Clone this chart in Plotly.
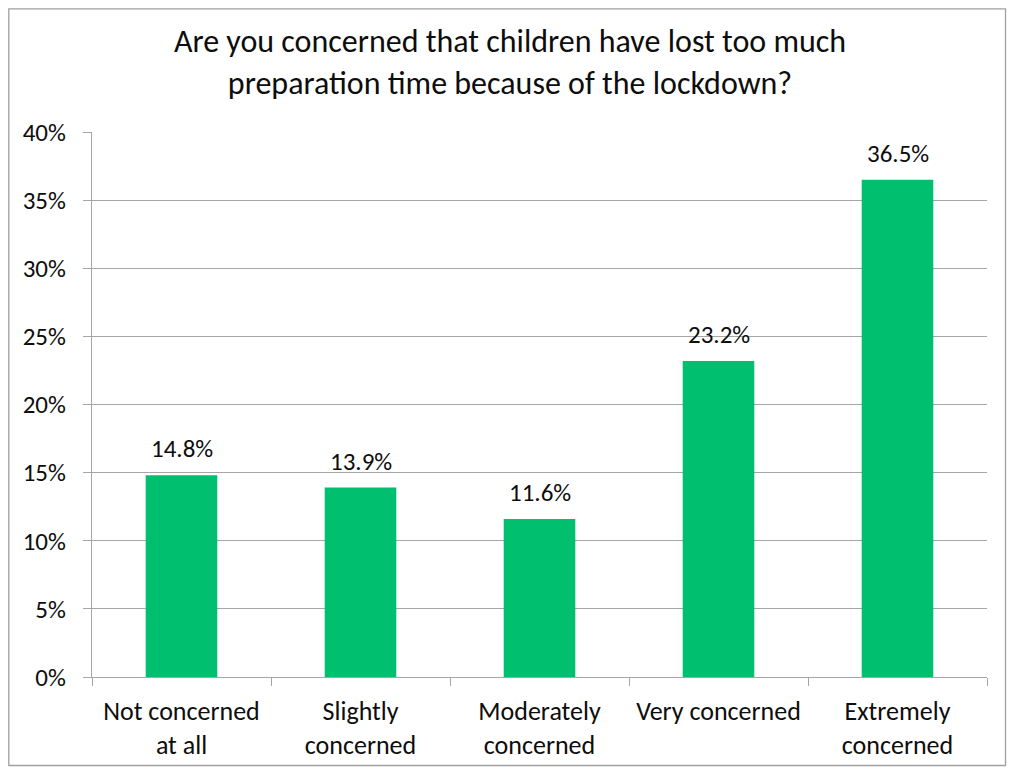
import plotly.graph_objects as go

categories = ["Not concerned<br>at all", "Slightly<br>concerned", "Moderately<br>concerned",
              "Very concerned", "Extremely<br>concerned"]
values = [14.8, 13.9, 11.6, 23.2, 36.5]
labels = ["14.8%", "13.9%", "11.6%", "23.2%", "36.5%"]
y_ticks = [0, 5, 10, 15, 20, 25, 30, 35, 40]
y_tick_text = ["0%", "5%", "10%", "15%", "20%", "25%", "30%", "35%", "40%"]

# page has an 8px body margin; figure is sized to fit inside it
W, H = 999, 759
ML, MR, MT, MB = 84, 20, 124, 90
FONT = "Carlito, Lato, sans-serif"
GRAY = "#A6A6A6"
TXT = "#0d0d0d"

fig = go.Figure(go.Bar(
    x=categories, y=values,
    marker=dict(color="#00BF6F", line=dict(width=0)),
    hoverinfo="skip",
))

for c, v, t in zip(categories, values, labels):
    fig.add_annotation(x=c, y=v, text=t, showarrow=False, xanchor="center",
                       yanchor="bottom", yshift=9,
                       font=dict(size=25, family=FONT, color=TXT))

pw, ph = W - ML - MR, H - MT - MB
fig.add_shape(type="rect", xref="paper", yref="paper",
              x0=(0.8 - ML) / pw, x1=(W - 1.5 - ML) / pw,
              y0=-(MB - 1.5) / ph, y1=1 + (MT - 0.8) / ph,
              line=dict(color="#A0A0A0", width=1.3), layer="below")

fig.update_layout(
    width=W, height=H,
    margin=dict(l=ML, r=MR, t=MT, b=MB, pad=0, autoexpand=False),
    paper_bgcolor="white", plot_bgcolor="white",
    font=dict(family=FONT, size=25, color=TXT),
    bargap=0.6, showlegend=False,
    title=dict(text="Are you concerned that children have lost too much<br>preparation time because of the lockdown?",
               x=(510 - 8) / W, xanchor="center", y=1 - 44 / H, yanchor="top",
               font=dict(size=32, family=FONT, color=TXT)),
)
fig.update_xaxes(automargin=False, showline=True, linecolor=GRAY, linewidth=1.3, ticks="outside",
                 tickson="boundaries", ticklen=8, tickcolor=GRAY, tickwidth=1.3,
                 showgrid=False, tickfont=dict(size=26), ticklabelstandoff=11)
fig.update_yaxes(automargin=False, range=[0, 40], tickvals=y_ticks, ticktext=y_tick_text,
                 showline=True, linecolor=GRAY, linewidth=1.3, ticks="outside",
                 ticklen=8, tickcolor=GRAY, tickwidth=1.3,
                 showgrid=True, gridcolor=GRAY, gridwidth=1.3, zeroline=False,
                 ticklabelstandoff=12, tickfont=dict(size=25))

fig.write_html("out.html")
